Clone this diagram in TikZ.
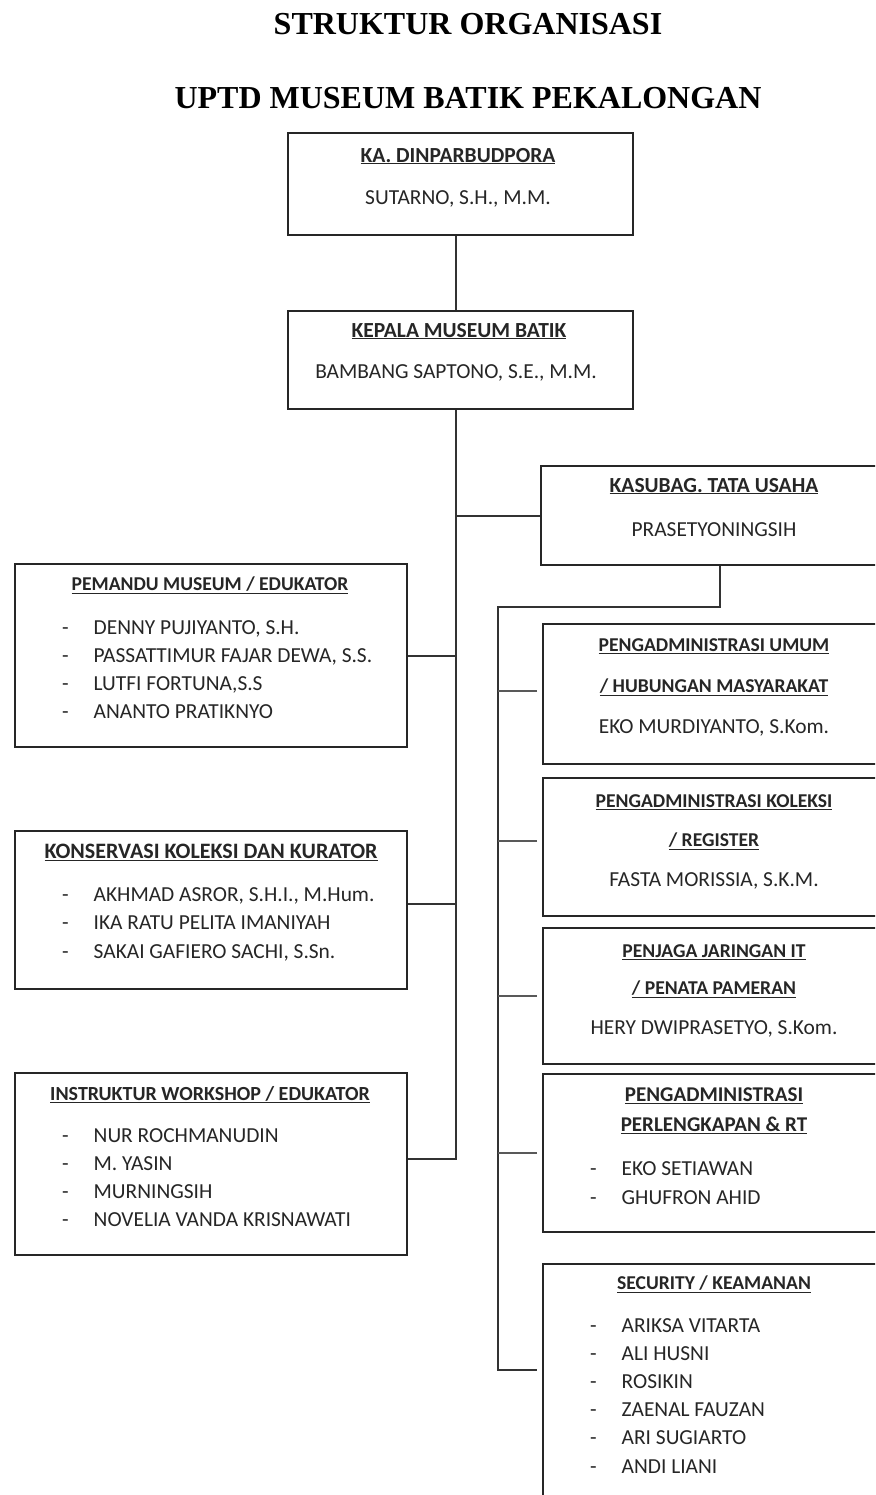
\documentclass[tikz,border=0pt]{standalone}
\usepackage{fontspec}
\setmainfont{Carlito}
\newfontfamily\judulfont{Liberation Serif}
\usetikzlibrary{positioning}

\newcommand{\butir}[1]{\makebox[31.5pt][l]{-}#1}

\begin{document}
\begin{tikzpicture}[
  x=1pt, y=-1pt,
  kotak/.style={draw=black!85, line width=2pt, anchor=north west, inner sep=0pt},
  teks/.style={inner sep=0pt, text depth=0pt, text=black!85},
  jabatan/.style={teks, font=\bfseries\fontsize{21.5}{26}\selectfont},
  bagian/.style={teks, font=\bfseries\fontsize{19.6}{24}\selectfont},
  nama/.style={teks, font=\fontsize{21.4}{26}\selectfont},
  daftar/.style={teks, align=left, anchor=north west, font=\fontsize{21.4}{28}\selectfont},
  judul/.style={inner sep=0pt, text depth=0pt, font=\judulfont\bfseries\fontsize{32}{38}\selectfont},
  garis/.style={draw=black!80, line width=2pt},
  cabang/.style={draw=black!65, line width=2pt}
]
\useasboundingbox (0,0) rectangle (875,1495);
\clip (0,0) rectangle (875,1495);
\fill[white] (0,0) rectangle (875,1495);

% judul
\node[judul] (judul) at (468,24) {STRUKTUR ORGANISASI};
\node[judul, below=52pt of judul] (subjudul) {UPTD MUSEUM BATIK PEKALONGAN};

% pimpinan
\node[kotak, minimum width=345pt, minimum height=102pt] (dinas) at (287,132) {};
\node[jabatan] at (458,155) {\underline{KA. DINPARBUDPORA}};
\node[nama] at (458,198) {SUTARNO, S.H., M.M.};

\node[kotak, minimum width=345pt, minimum height=98pt] (kamus) at (287,310) {};
\node[jabatan] at (459,330) {\underline{KEPALA MUSEUM BATIK}};
\node[nama] at (456,372) {BAMBANG SAPTONO, S.E., M.M.};

\node[kotak, minimum width=350pt, minimum height=99pt] (kasubag) at (540,465) {};
\node[jabatan] at (714,485) {\underline{KASUBAG. TATA USAHA}};
\node[nama] at (714,530) {PRASETYONINGSIH};

% kolom kiri
\node[kotak, minimum width=392pt, minimum height=183pt] (pemandu) at (14,563) {};
\node[bagian] at (210,584) {\underline{PEMANDU MUSEUM / EDUKATOR}};
\node[daftar] at (62,620) {\butir{DENNY PUJIYANTO, S.H.}\\ \butir{PASSATTIMUR FAJAR DEWA, S.S.}\\ \butir{LUTFI FORTUNA,S.S}\\ \butir{ANANTO PRATIKNYO}};

\node[kotak, minimum width=392pt, minimum height=158pt] (konservasi) at (14,830) {};
\node[bagian, font=\bfseries\fontsize{22}{26}\selectfont] at (211,851) {\underline{KONSERVASI KOLEKSI DAN KURATOR}};
\node[daftar, font=\fontsize{21.4}{28.5}\selectfont] at (62,887) {\butir{AKHMAD ASROR, S.H.I., M.Hum.}\\ \butir{IKA RATU PELITA IMANIYAH}\\ \butir{SAKAI GAFIERO SACHI, S.Sn.}};

\node[kotak, minimum width=392pt, minimum height=182pt] (instruktur) at (14,1072) {};
\node[bagian, font=\bfseries\fontsize{20}{24}\selectfont] at (210,1093) {\underline{INSTRUKTUR WORKSHOP / EDUKATOR}};
\node[daftar] at (62,1128) {\butir{NUR ROCHMANUDIN}\\ \butir{M. YASIN}\\ \butir{MURNINGSIH}\\ \butir{NOVELIA VANDA KRISNAWATI}};

% kolom kanan
\node[kotak, minimum width=348pt, minimum height=140pt] (umum) at (542,623) {};
\node[bagian] at (714,645) {\underline{PENGADMINISTRASI UMUM}};
\node[bagian] at (714,686) {\underline{/ HUBUNGAN MASYARAKAT}};
\node[nama] at (714,727) {EKO MURDIYANTO, S.Kom.};

\node[kotak, minimum width=348pt, minimum height=138pt] (koleksi) at (542,777) {};
\node[bagian] at (714,801) {\underline{PENGADMINISTRASI KOLEKSI}};
\node[bagian] at (714,840) {\underline{/ REGISTER}};
\node[nama] at (714,880) {FASTA MORISSIA, S.K.M.};

\node[kotak, minimum width=348pt, minimum height=136pt] (penjaga) at (542,927) {};
\node[bagian] at (714,951) {\underline{PENJAGA JARINGAN IT}};
\node[bagian] at (714,988) {\underline{/ PENATA PAMERAN}};
\node[nama] at (714,1028) {HERY DWIPRASETYO, S.Kom.};

\node[kotak, minimum width=348pt, minimum height=158pt] (perlengkapan) at (542,1073) {};
\node[jabatan, font=\bfseries\fontsize{21}{26}\selectfont] at (714,1095) {\underline{PENGADMINISTRASI}};
\node[jabatan, font=\bfseries\fontsize{21}{26}\selectfont] at (714,1124) {\underline{PERLENGKAPAN \& RT}};
\node[daftar, font=\fontsize{21.4}{29}\selectfont] at (590,1161) {\butir{EKO SETIAWAN}\\ \butir{GHUFRON AHID}};

\node[kotak, minimum width=348pt, minimum height=260pt] (security) at (542,1263) {};
\node[bagian] at (714,1283) {\underline{SECURITY / KEAMANAN}};
\node[daftar, font=\fontsize{21.4}{28.2}\selectfont] at (590,1318) {\butir{ARIKSA VITARTA}\\ \butir{ALI HUSNI}\\ \butir{ROSIKIN}\\ \butir{ZAENAL FAUZAN}\\ \butir{ARI SUGIARTO}\\ \butir{ANDI LIANI}};

% garis
\coordinate (trunk) at (456,0);
\coordinate (bus) at (498,607);
\coordinate (ujung) at (537,1370);

\draw[garis] (dinas.south -| trunk) -- (kamus.north -| trunk);
\draw[garis] (kamus.south -| trunk) |- ([yshift=5pt]instruktur.east);
\draw[garis] (kasubag.west) -- (kasubag.west -| trunk);
\draw[garis] (pemandu.east) -- (pemandu.east -| trunk);
\draw[garis] ([yshift=6pt]konservasi.east) -- ([yshift=6pt]konservasi.east -| trunk);

\draw[garis] ([xshift=4pt]kasubag.south) |- (bus) |- (ujung);
\draw[cabang] ([xshift=-5pt,yshift=3pt]umum.west) -- ([yshift=3pt]umum.west -| bus);
\draw[cabang] ([xshift=-5pt,yshift=6pt]koleksi.west) -- ([yshift=6pt]koleksi.west -| bus);
\draw[cabang] ([xshift=-5pt]penjaga.west) -- (penjaga.west -| bus);
\draw[cabang] ([xshift=-5pt]perlengkapan.west) -- (perlengkapan.west -| bus);

\end{tikzpicture}
\end{document}
